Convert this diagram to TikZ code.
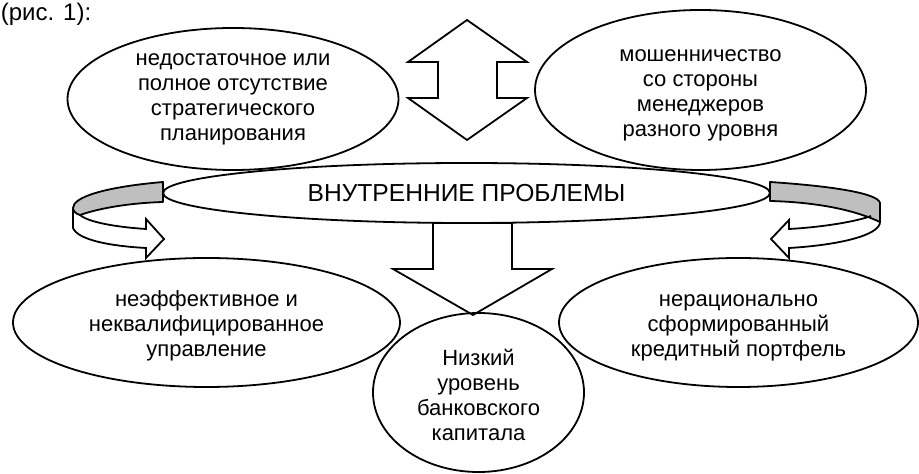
\documentclass[tikz,border=0pt]{standalone}
\usepackage{fontspec}
\setmainfont{Liberation Sans}
\usetikzlibrary{shapes.geometric}

\begin{document}
\begin{tikzpicture}[x=0.5pt, y=-0.5pt, line width=0.9pt,
    blob/.style={draw, ellipse, inner sep=0pt, align=center,
                 font=\fontsize{11}{12.5}\selectfont},
    band/.style={draw, fill=black!25, line join=round}]

    \useasboundingbox (0,0) rectangle (919,474);

    % Caption reference
    \node[anchor=west, inner sep=0pt, font=\fontsize{12}{14}\selectfont] (fig) at (0,14) {(рис. 1):};

    % Upper ellipses
    \node[blob, minimum width=165.5pt, minimum height=71pt] (plan) at (233,99)
        {недостаточное или\\полное отсутствие\\стратегического\\планирования};
    \node[blob, minimum width=165.5pt, minimum height=80pt] (fraud) at (700.5,90)
        {\rule{0pt}{11pt}мошенничество\\со стороны\\менеджеров\\разного уровня};

    % Central ellipse
    \node[blob, minimum width=303.5pt, minimum height=30pt, font=\fontsize{12.3}{14}\selectfont] (core) at (466.5,193)
        {ВНУТРЕННИЕ ПРОБЛЕМЫ};

    % Lower ellipses
    \node[blob, minimum width=193.5pt, minimum height=64.5pt] (manage) at (206.5,322.5)
        {\rule{0pt}{11pt}неэффективное и\\неквалифицированное\\управление};
    \node[blob, minimum width=105.5pt, minimum height=79.5pt] (capital) at (478.5,392.5)
        {\rule{0pt}{11pt}Низкий\\уровень\\банковского\\капитала};
    \node[blob, minimum width=179.5pt, minimum height=64.5pt] (credit) at (738.5,322.5)
        {\rule{0pt}{11pt}нерационально\\сформированный\\кредитный портфель};

    % Double arrow between the upper ellipses
    \draw[line join=miter] (467,20) -- (527,62) -- (497,62) -- (497,98) -- (527,98) -- (467,140)
        -- (408,98) -- (438,98) -- (438,62) -- (408,62) -- cycle;

    % Down arrow to the capital ellipse
    \draw[line join=miter] (433,223) -- (512,223) -- (512,269) -- (552,269) -- (473,315)
        -- (393,269) -- (433,269) -- cycle;

    % Left ribbon arrow
    \draw[band] (163,182) .. controls (105,187) and (73,197) .. (73,208)
        .. controls (73,211) and (76,214) .. (80,215)
        .. controls (100,208) and (130,203) .. (163,202) -- cycle;
    \draw[line join=miter] (73,208) -- (73,228) .. controls (78,240) and (110,246) .. (146,248)
        -- (146,258) -- (164,239) -- (146,219) -- (146,229)
        .. controls (115,227) and (88,222) .. (80,215);

    % Right ribbon arrow
    \draw[band] (770,182) .. controls (830,186) and (878,193) .. (880,203) -- (880,222)
        .. controls (850,208) and (810,202) .. (770,201) -- cycle;
    \draw[line join=miter] (880,222) .. controls (880,235) and (840,245) .. (789,248)
        -- (789,258) -- (771,239) -- (789,220) -- (789,229)
        .. controls (825,227) and (858,221) .. (871,216);

\end{tikzpicture}
\end{document}
